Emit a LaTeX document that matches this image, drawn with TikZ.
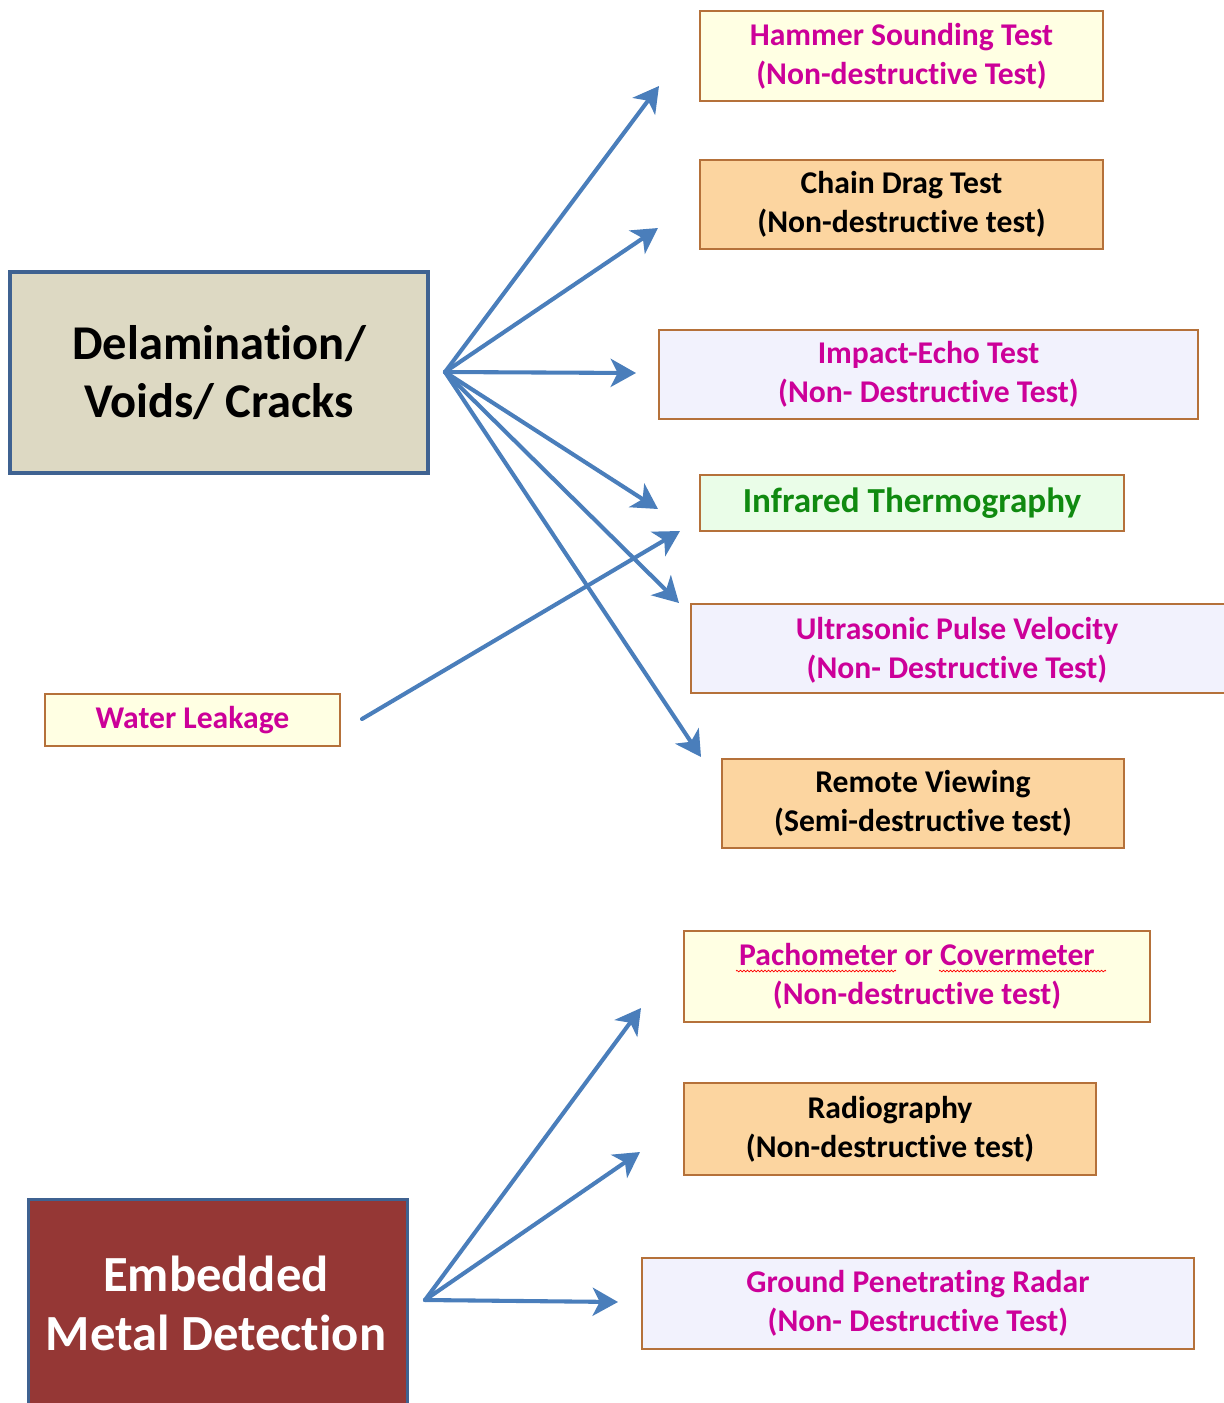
\documentclass[tikz,border=0pt]{standalone}
\usepackage{fontspec}
\setmainfont[Ligatures=NoCommon]{Carlito}
\usetikzlibrary{arrows.meta,decorations.pathmorphing}
\definecolor{boxedge}{HTML}{B5713A}
\definecolor{yfill}{HTML}{FFFFE3}
\definecolor{ofill}{HTML}{FCD5A0}
\definecolor{lfill}{HTML}{F2F2FD}
\definecolor{gfill}{HTML}{EAFDE8}
\definecolor{mag}{HTML}{CC0099}
\definecolor{grn}{HTML}{108A10}
\definecolor{tanfill}{HTML}{DDD9C3}
\definecolor{navyedge}{HTML}{3F6291}
\definecolor{redfill}{HTML}{953735}
\definecolor{arr}{HTML}{4A7EBB}
\tikzset{
  tbox/.style={draw=boxedge, line width=1.4pt, inner sep=0pt, align=center,
    font=\fontsize{22.5}{27.5}\selectfont\bfseries},
  yel/.style={tbox, fill=yfill, text=mag},
  ora/.style={tbox, fill=ofill, text=black},
  lav/.style={tbox, fill=lfill, text=mag},
  bigbox/.style={draw=navyedge, line width=2.2pt, inner sep=0pt, align=center},
  conn/.style={draw=arr, line width=2.9pt, line cap=round, -{Stealth[length=18pt,width=20pt,inset=5pt]}}
}
\begin{document}
\begin{tikzpicture}[x=0.025cm,y=-0.025cm]
\useasboundingbox (0,0) rectangle (1224,1403);
\begin{scope}
\clip (0,0) rectangle (1224,1403);
% top group boxes
\node[yel, minimum width=403*0.025cm, minimum height=90*0.025cm] (hammer) at (901.5,56) {Hammer Sounding Test\\(Non-destructive Test)};
\node[ora, minimum width=403*0.025cm, minimum height=89*0.025cm] (chain) at (901.5,204.5) {Chain Drag Test\\(Non-destructive test)};
\node[lav, minimum width=539*0.025cm, minimum height=89*0.025cm] (impact) at (928.5,374.5) {Impact-Echo Test\\(Non- Destructive Test)};
\node[tbox, fill=gfill, text=grn, font=\fontsize{25}{28}\selectfont\bfseries, minimum width=424*0.025cm, minimum height=56*0.025cm] (infra) at (912,503) {Infrared Thermography};
\node[lav, minimum width=544*0.025cm, minimum height=89*0.025cm, anchor=west] (ultra) at (690,648.5) {\hspace*{-1pt}};
\node[text=mag, align=center, font=\fontsize{22.5}{27.5}\selectfont\bfseries, inner sep=0pt] (ultratext) at (957,650) {Ultrasonic Pulse Velocity\\(Non- Destructive Test)};
\node[ora, minimum width=402*0.025cm, minimum height=89*0.025cm] (remote) at (923,803.5) {Remote Viewing\\(Semi-destructive test)};
% left boxes
\node[bigbox, fill=tanfill, minimum width=418*0.025cm, minimum height=201*0.025cm, font=\fontsize{34.5}{41}\selectfont\bfseries] (delam) at (219,372.5) {Delamination/\\Voids/ Cracks};
\node[yel, minimum width=295*0.025cm, minimum height=52*0.025cm] (water) at (192.5,720) {Water Leakage};
\node[bigbox, fill=redfill, text=white, minimum width=379*0.025cm, minimum height=240*0.025cm, anchor=north west] (embed) at (27,1198) {};
\node[text=white, align=center, inner sep=0pt, font=\fontsize{36}{42}\selectfont\bfseries] (embedtext) at (216,1303) {Embedded\\Metal Detection};
% bottom group boxes
\node[yel, minimum width=466*0.025cm, minimum height=91*0.025cm] (pacho) at (917,976.5) {Pachometer or Covermeter\\(Non-destructive test)};
\node[ora, minimum width=412*0.025cm, minimum height=92*0.025cm] (radio) at (890,1129) {Radiography\\(Non-destructive test)};
\node[lav, minimum width=552*0.025cm, minimum height=91*0.025cm] (gpr) at (918,1303.5) {Ground Penetrating Radar\\(Non- Destructive Test)};
\end{scope}
% spell-check squiggles
\draw[red, line width=0.5pt, decorate, decoration={zigzag, amplitude=0.6pt, segment length=2.5pt}] (736,971) -- (896,971);
\draw[red, line width=0.5pt, decorate, decoration={zigzag, amplitude=0.6pt, segment length=2.5pt}] (939,971) -- (1106,971);
% arrows top group
\coordinate (hub) at (445,372);
\coordinate (tHammer) at (659,86);
\coordinate (tChain) at (658,228);
\coordinate (tImpact) at (636,373);
\coordinate (tInfra) at (658,509);
\coordinate (tUltra) at (679,603);
\coordinate (tRemote) at (701,757);
\coordinate (wStart) at (362,719);
\coordinate (tWater) at (680,531);
\draw[conn] (hub) -- (tHammer);
\draw[conn] (hub) -- (tChain);
\draw[conn] (hub) -- (tImpact);
\draw[conn] (hub) -- (tInfra);
\draw[conn] (hub) -- (tUltra);
\draw[conn] (hub) -- (tRemote);
\draw[conn] (wStart) -- (tWater);
% arrows bottom group
\coordinate (hub2) at (425,1300);
\coordinate (tPacho) at (641,1008);
\coordinate (tRadio) at (640,1152);
\coordinate (tGpr) at (618,1302);
\draw[conn] (hub2) -- (tPacho);
\draw[conn] (hub2) -- (tRadio);
\draw[conn] (hub2) -- (tGpr);
\end{tikzpicture}
\end{document}
